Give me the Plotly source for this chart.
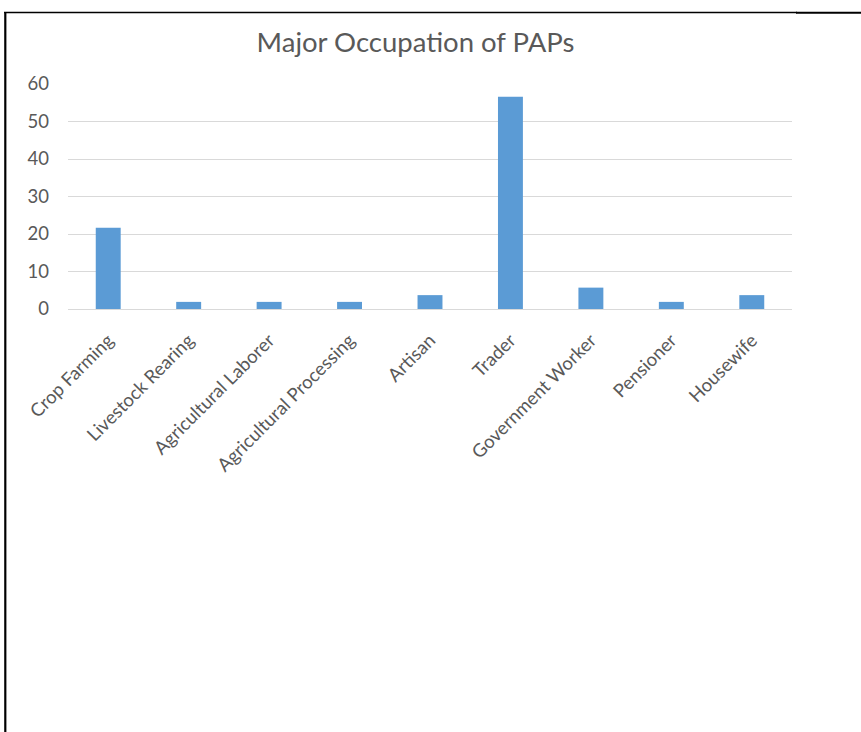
import plotly.graph_objects as go

categories = ["Crop Farming", "Livestock Rearing", "Agricultural Laborer",
              "Agricultural Processing", "Artisan", "Trader",
              "Government Worker", "Pensioner", "Housewife"]
values = [21.7, 1.9, 1.9, 1.9, 3.7, 56.6, 5.7, 1.9, 3.7]
y_ticks = [0, 10, 20, 30, 40, 50, 60]
title_text = "Major Occupation of PAPs"

W, H = 861, 732
L, R = 68, 792      # plot area x in px
T, B = 84, 309      # plot area y in px

def px(x):
    return (x - L) / (R - L)

def py(y):
    return (B - y) / (B - T)

FONT = "Lato, Open Sans, sans-serif"
GREY = "#595959"

fig = go.Figure(go.Bar(
    x=categories, y=values,
    marker=dict(color="#5b9bd5", line=dict(width=0)),
))

fig.update_layout(
    width=W, height=H,
    margin=dict(l=L, r=W - R, t=T, b=H - B, autoexpand=False),
    paper_bgcolor="white", plot_bgcolor="white",
    bargap=0.69,
    showlegend=False,
    font=dict(family=FONT, color=GREY, size=18),
    title=dict(text=title_text, x=px(415.5), xref="paper", xanchor="center",
               y=1 - 42 / H, yanchor="middle", yref="container",
               font=dict(size=27.5, color=GREY, family=FONT)),
    xaxis=dict(tickangle=-45, showgrid=False, showline=False, ticks="",
               automargin=False, ticklabelstandoff=16,
               tickfont=dict(size=18.5, color=GREY, family=FONT)),
    yaxis=dict(range=[0, 60], tickvals=y_ticks, showgrid=True, gridcolor="#d9d9d9",
               gridwidth=1, zeroline=True, zerolinecolor="#d9d9d9", zerolinewidth=1,
               showline=False, ticks="", ticklabelstandoff=18, automargin=False,
               tickfont=dict(size=18.5, color=GREY, family=FONT)),
    shapes=[
        dict(type="line", xref="paper", yref="paper", x0=px(4), x1=px(797),
             y0=py(12.5), y1=py(12.5), line=dict(color="black", width=1.3)),
        dict(type="line", xref="paper", yref="paper", x0=px(796), x1=px(861),
             y0=py(12.8), y1=py(12.8), line=dict(color="black", width=2)),
        dict(type="line", xref="paper", yref="paper", x0=px(5.3), x1=px(5.3),
             y0=py(12), y1=py(732), line=dict(color="black", width=2.2)),
    ],
)

fig.write_html("out.html",
               config={"displayModeBar": False},
               post_script="document.body.style.margin='0';document.body.style.overflow='hidden';")
